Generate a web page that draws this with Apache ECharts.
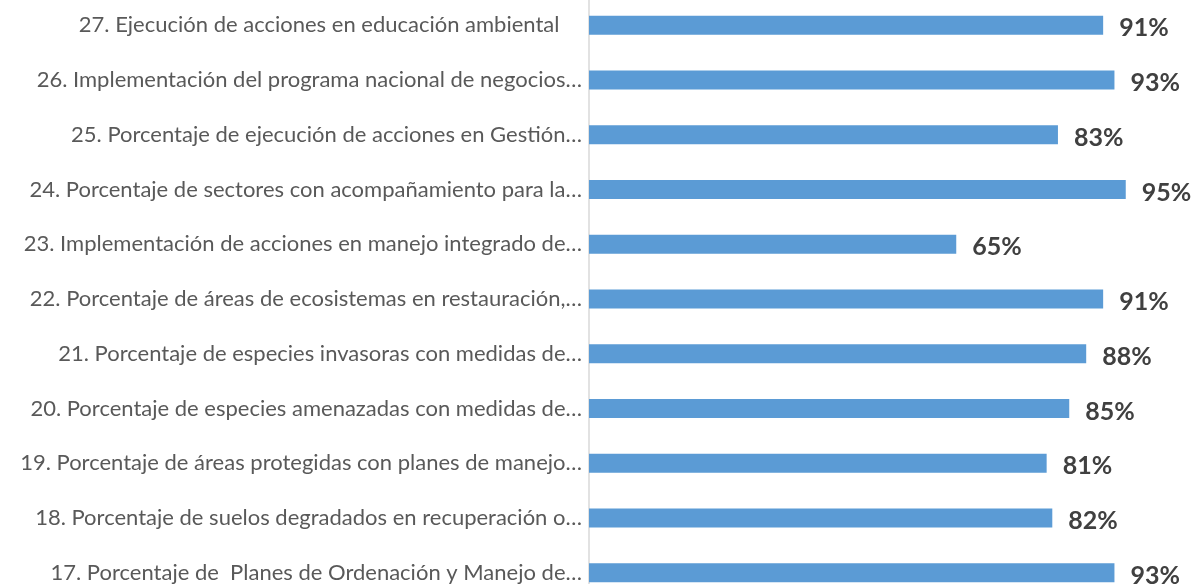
<!DOCTYPE html>
<html lang="es">
<head>
  <meta charset="UTF-8">
  <title>Indicadores</title>
  <style>
    html, body { margin: 0; padding: 0; background: #fff; overflow: hidden; }
    #chart { width: 1200px; height: 602px; margin-top: -2px; }
  </style>
</head>
<body>
<div id="chart"></div>
<script src="https://cdn.jsdelivr.net/npm/echarts@6/dist/echarts.min.js"></script>
<script>
  // top to bottom, as in the picture
  const categories = [
    '27. Ejecución de acciones en educación ambiental    ',
    '26. Implementación del programa nacional de negocios…',
    '25. Porcentaje de ejecución de acciones en Gestión…',
    '24. Porcentaje de sectores con acompañamiento para la…',
    '23. Implementación de acciones en manejo integrado de…',
    '22. Porcentaje de áreas de ecosistemas en restauración,…',
    '21. Porcentaje de especies invasoras con medidas de…',
    '20. Porcentaje de especies amenazadas con medidas de…',
    '19. Porcentaje de áreas protegidas con planes de manejo…',
    '18. Porcentaje de suelos degradados en recuperación o…',
    '17. Porcentaje de  Planes de Ordenación y Manejo de…'
  ];
  const values = [91, 93, 83, 95, 65, 91, 88, 85, 81, 82, 93];

  const chart = echarts.init(document.getElementById('chart'));
  chart.setOption({
    animation: false,
    grid: {left: 589, right: 46, top: 0, bottom: 0, containLabel: false},
    xAxis: {
      type: 'value', min: 0, max: 100, show: false
    },
    yAxis: {
      type: 'category',
      inverse: true,
      data: categories,
      axisLine: {show: true, lineStyle: {color: '#d9d9d9', width: 1.5}},
      axisTick: {show: false},
      splitLine: {show: false},
      axisLabel: {
        margin: 7,
        color: '#595959',
        fontFamily: 'Lato',
        fontSize: 22
      }
    },
    series: [{
      type: 'bar',
      data: values,
      barWidth: 19,
      itemStyle: {color: '#5b9bd5'},
      label: {
        show: true,
        position: 'right',
        distance: 16,
        offset: [0, 3],
        formatter: '{c}%',
        color: '#404040',
        fontFamily: 'Lato',
        fontWeight: 'bold',
        fontSize: 25
      }
    }]
  });
</script>
</body>
</html>
